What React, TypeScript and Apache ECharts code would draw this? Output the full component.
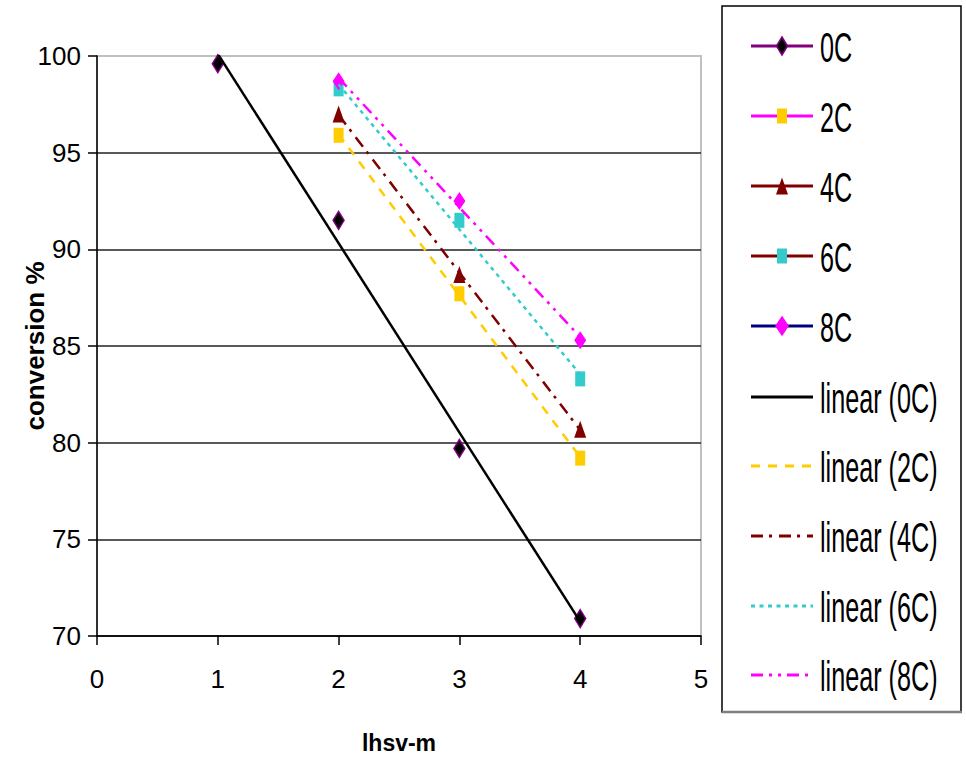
import React, { useEffect, useRef } from "react";
import * as echarts from "echarts";

// ---- data ----
const lhsv0C = [1, 2, 3, 4];
const conv0C = [99.6, 91.5, 79.7, 70.9];
const lhsvOther = [2, 3, 4];
const conv2C = [95.9, 87.7, 79.2];
const conv4C = [97.0, 88.7, 80.7];
const conv6C = [98.3, 91.5, 83.3];
const conv8C = [98.7, 92.5, 85.3];
const seriesNames = ["0C", "2C", "4C", "6C", "8C"];
const trendNames = ["linear (0C)", "linear (2C)", "linear (4C)", "linear (6C)", "linear (8C)"];
const xTicks = [0, 1, 2, 3, 4, 5];
const yTicks = [70, 75, 80, 85, 90, 95, 100];

const FONT = "'Liberation Sans Narrow', 'Arial Narrow', 'Liberation Sans', Arial, sans-serif";

function pairs(xs: number[], ys: number[]) {
  return xs.map((x, i) => [x, ys[i]]);
}

// least-squares linear trendline over the data's x range (as Excel draws it)
function trend(xs: number[], ys: number[]) {
  const n = xs.length;
  const mx = xs.reduce((a, b) => a + b, 0) / n;
  const my = ys.reduce((a, b) => a + b, 0) / n;
  let sxy = 0;
  let sxx = 0;
  for (let i = 0; i < n; i++) {
    sxy += (xs[i] - mx) * (ys[i] - my);
    sxx += (xs[i] - mx) * (xs[i] - mx);
  }
  const b = sxy / sxx;
  const a = my - b * mx;
  const x0 = Math.min(...xs);
  const x1 = Math.max(...xs);
  return [
    [x0, a + b * x0],
    [x1, a + b * x1],
  ];
}

const markerDefs = [
  { symbol: "diamond", size: [11, 18], color: "#000000", border: "#800080", line: "#800080" },
  { symbol: "rect", size: [10, 15], color: "#FFCC00", border: "#FFCC00", line: "#FF00FF" },
  { symbol: "triangle", size: [12, 17], color: "#800000", border: "#800000", line: "#800000" },
  { symbol: "rect", size: [10, 15], color: "#33CCCC", border: "#33CCCC", line: "#800000" },
  { symbol: "diamond", size: [12, 18], color: "#FF00FF", border: "#FF00FF", line: "#000080" },
];

const trendDefs = [
  { color: "#000000", dash: "solid" as any },
  { color: "#FFCC00", dash: [9, 8] },
  { color: "#800000", dash: [12, 6, 3, 7] },
  { color: "#33CCCC", dash: [4, 4.5] },
  { color: "#FF00FF", dash: [12, 6, 3, 6, 3, 6] },
];

function legendGraphics() {
  const els: any[] = [];
  els.push({
    type: "rect",
    shape: { x: 722, y: 6, width: 239, height: 706 },
    style: { fill: "#fff", stroke: "#000", lineWidth: 1.5 },
    z: 10,
  });
  els.push({
    type: "line",
    shape: { x1: 722, y1: 712, x2: 962, y2: 712 },
    style: { stroke: "#808080", lineWidth: 2.5 },
    z: 11,
  });
  const rowsY = [46, 116, 186, 256, 326, 397, 466, 536, 606, 675];
  const lx1 = 751;
  const lx2 = 813;
  const mx = 782;
  const textX = 820;
  const all = [...seriesNames, ...trendNames];
  all.forEach((name, i) => {
    const y = rowsY[i];
    if (i < 5) {
      const m = markerDefs[i];
      els.push({
        type: "line",
        shape: { x1: lx1, y1: y, x2: lx2, y2: y },
        style: { stroke: m.line, lineWidth: 3 },
        z: 11,
      });
      const w = m.size[0];
      const h = m.size[1];
      if (m.symbol === "diamond") {
        els.push({
          type: "polygon",
          shape: { points: [[mx, y - h / 2], [mx + w / 2, y], [mx, y + h / 2], [mx - w / 2, y]] },
          style: { fill: m.color, stroke: m.border, lineWidth: 1.5 },
          z: 12,
        });
      } else if (m.symbol === "rect") {
        els.push({
          type: "rect",
          shape: { x: mx - w / 2, y: y - h / 2, width: w, height: h },
          style: { fill: m.color },
          z: 12,
        });
      } else {
        els.push({
          type: "polygon",
          shape: { points: [[mx, y - h / 2], [mx + w / 2, y + h / 2], [mx - w / 2, y + h / 2]] },
          style: { fill: m.color },
          z: 12,
        });
      }
    } else {
      const t = trendDefs[i - 5];
      els.push({
        type: "line",
        shape: { x1: lx1, y1: y, x2: lx2, y2: y },
        style: { stroke: t.color, lineWidth: 3, lineDash: t.dash === "solid" ? null : t.dash },
        z: 11,
      });
    }
    els.push({
      type: "text",
      x: textX,
      y: y + 1,
      scaleX: 0.6,
      style: {
        text: name,
        fill: "#000",
        fontSize: 42,
        fontFamily: "'Liberation Sans', Arial, sans-serif",
        verticalAlign: "middle",
        textVerticalAlign: "middle",
        align: "left",
      },
      z: 12,
    });
  });
  return els;
}

export default function App() {
  const ref = useRef<HTMLDivElement>(null);
  useEffect(() => {
    if (!ref.current) return;
    const chart = echarts.init(ref.current, undefined, { renderer: "svg" });
    const dataSets = [
      pairs(lhsv0C, conv0C),
      pairs(lhsvOther, conv2C),
      pairs(lhsvOther, conv4C),
      pairs(lhsvOther, conv6C),
      pairs(lhsvOther, conv8C),
    ];
    const rawX = [lhsv0C, lhsvOther, lhsvOther, lhsvOther, lhsvOther];
    const rawY = [conv0C, conv2C, conv4C, conv6C, conv8C];

    const scatterSeries = dataSets.map((d, i) => ({
      name: seriesNames[i],
      type: "scatter",
      data: d,
      symbol: markerDefs[i].symbol,
      symbolSize: markerDefs[i].size,
      itemStyle: {
        color: markerDefs[i].color,
        borderColor: markerDefs[i].border,
        borderWidth: i === 0 ? 1.5 : 0,
        opacity: 1,
      },
      z: 3,
    }));
    const trendSeries = rawX.map((xs, i) => ({
      name: trendNames[i],
      type: "line",
      data: trend(xs, rawY[i]),
      symbol: "none",
      showSymbol: false,
      lineStyle: { color: trendDefs[i].color, width: 2.5, type: trendDefs[i].dash },
      z: 4,
    }));

    chart.setOption({
      animation: false,
      backgroundColor: "#ffffff",
      grid: {
        left: 97,
        right: 265,
        top: 56,
        bottom: 122,
        containLabel: false,
        outerBoundsMode: "none",
        show: true,
        borderColor: "#c0c0c0",
        borderWidth: 2,
        backgroundColor: "transparent",
      },
      xAxis: {
        type: "value",
        min: xTicks[0],
        max: xTicks[xTicks.length - 1],
        interval: 1,
        name: "lhsv-m",
        nameLocation: "middle",
        nameGap: 95,
        nameMoveOverlap: false,
        nameTextStyle: { fontFamily: FONT, fontWeight: "bold", fontSize: 23, color: "#000" },
        axisLine: { show: true, onZero: false, lineStyle: { color: "#000", width: 1.5 } },
        axisTick: { show: true, length: 9, lineStyle: { color: "#000", width: 1.5 } },
        axisLabel: { margin: 30, fontFamily: FONT, fontSize: 26, color: "#000" },
        splitLine: { show: false },
      },
      yAxis: {
        type: "value",
        min: yTicks[0],
        max: yTicks[yTicks.length - 1],
        interval: 5,
        name: "conversion %",
        nameLocation: "middle",
        nameGap: 49,
        nameRotate: 90,
        nameMoveOverlap: false,
        nameTextStyle: { fontFamily: FONT, fontWeight: "bold", fontSize: 26, color: "#000" },
        axisLine: { show: true, onZero: false, lineStyle: { color: "#000", width: 1.5 } },
        axisTick: { show: true, length: 9, lineStyle: { color: "#000", width: 1.5 } },
        axisLabel: { margin: 16, fontFamily: FONT, fontSize: 26, color: "#000" },
        splitLine: { show: true, showMaxLine: false, lineStyle: { color: "#222", width: 1.5 } },
      },
      series: [...scatterSeries, ...trendSeries],
      graphic: legendGraphics(),
    });
    return () => chart.dispose();
  }, []);
  return (
    <div
      ref={ref}
      style={{ position: "fixed", left: 0, top: 0, width: 966, height: 758, background: "#fff" }}
    />
  );
}
